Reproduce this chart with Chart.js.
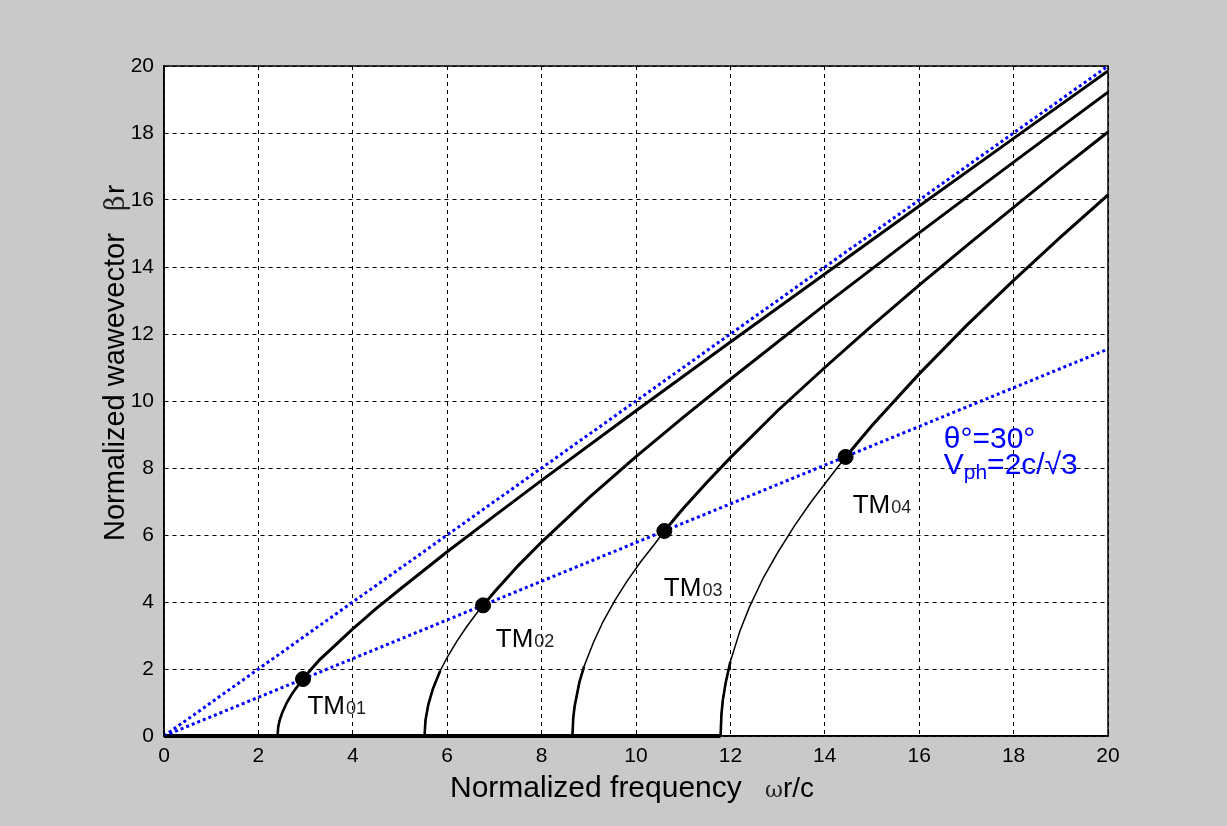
<!DOCTYPE html>
<html>
<head>
<meta charset="utf-8">
<title>TM modes dispersion</title>
<script src="https://cdn.jsdelivr.net/npm/chart.js@4.4.1/dist/chart.umd.min.js"></script>
<style>
  body { margin: 0; background: #c9c9c9; }
  #wrap { width: 1227px; height: 826px; }
</style>
</head>
<body>
<div id="wrap"><canvas id="chart" width="1227" height="826"></canvas></div>
<script>
// Axis ticks (both axes 0..20 step 2)
const tickValues = [0, 2, 4, 6, 8, 10, 12, 14, 16, 18, 20];

// Mode names
const modeNames = ['TM01', 'TM02', 'TM03', 'TM04'];

// Thin part of each mode curve: from cutoff up to the marked point
const tm01ThinX = [2.405, 2.42, 2.45, 2.5, 2.6, 2.7, 2.8, 2.945];
const tm01ThinY = [0, 0.27, 0.47, 0.68, 0.99, 1.23, 1.43, 1.70];
const tm02ThinX = [5.52, 5.54, 5.6, 5.7, 5.85, 6.0, 6.2, 6.4, 6.6, 6.76];
const tm02ThinY = [0, 0.47, 0.94, 1.42, 1.94, 2.35, 2.82, 3.24, 3.62, 3.90];
const tm03ThinX = [8.654, 8.67, 8.7, 8.8, 8.9, 9.1, 9.3, 9.55, 9.8, 10.1, 10.4, 10.6];
const tm03ThinY = [0, 0.53, 0.89, 1.60, 2.08, 2.80, 3.41, 4.04, 4.60, 5.20, 5.74, 6.12];
const tm04ThinX = [11.792, 11.81, 11.84, 11.9, 12.0, 12.2, 12.4, 12.7, 13.0, 13.35, 13.7, 14.05, 14.44];
const tm04ThinY = [0, 0.65, 1.07, 1.59, 2.22, 3.13, 3.84, 4.73, 5.47, 6.26, 6.97, 7.62, 8.33];

// How many of the first thin points look heavier (steep part near cutoff)
const footCount = [8, 5, 5, 5];

// Thick part of each mode curve: from the marked point to the right edge
const tm01ThickX = [2.945, 3.1, 3.3, 3.5, 3.75, 4, 4.5, 5, 6, 7, 8, 10, 12, 14, 16, 18, 20];
const tm01ThickY = [1.70, 1.96, 2.28, 2.54, 2.87, 3.20, 3.81, 4.38, 5.50, 6.57, 7.63, 9.71, 11.76, 13.79, 15.82, 17.84, 19.85];
const tm02ThickX = [6.76, 7, 7.5, 8, 9, 10, 11, 12, 14, 16, 18, 20];
const tm02ThickY = [3.90, 4.30, 5.08, 5.79, 7.11, 8.34, 9.51, 10.65, 12.87, 15.02, 17.13, 19.22];
const tm03ThickX = [10.6, 11, 11.5, 12, 13, 14, 15, 16, 17, 18, 19, 20];
const tm03ThickY = [6.12, 6.79, 7.57, 8.31, 9.71, 11.0, 12.25, 13.46, 14.63, 15.78, 16.92, 18.03];
const tm04ThickX = [14.44, 15, 16, 17, 18, 19, 20];
const tm04ThickY = [8.33, 9.27, 10.81, 12.25, 13.6, 14.9, 16.15];

// Thick line along the bottom (below cutoff)
const baseX = [0, 11.792];
const baseY = [0, 0];

// Blue dotted lines: light line and the 30 degree line
const lightX = [0, 20];
const lightY = [0, 20];
const phaseX = [0, 20];
const phaseY = [0, 11.55];

// Marked points where the 30 degree line crosses each mode
const dotX = [2.945, 6.76, 10.6, 14.44];
const dotY = [1.70, 3.90, 6.12, 8.33];

// Label anchors (data coords, left / baseline)
const labelX = [3.04, 7.03, 10.59, 14.59];
const labelY = [0.66, 2.66, 4.19, 6.67];
const noteX = 16.52;
const noteY1 = 8.61;
const noteY2 = 7.83;

const FONT = '"Liberation Sans", Arial, sans-serif';

function pts(xs, ys) {
    return xs.map((x, i) => ({ x: x, y: ys[i] }));
}

function curve(xs, ys, width, order) {
    return {
        data: pts(xs, ys),
        showLine: true,
        borderColor: '#000',
        borderWidth: width,
        pointRadius: 0,
        tension: 0,
        order: order
    };
}

const thinX = [tm01ThinX, tm02ThinX, tm03ThinX, tm04ThinX];
const thinY = [tm01ThinY, tm02ThinY, tm03ThinY, tm04ThinY];

const datasets = [
    {
        data: pts(dotX, dotY),
        showLine: false,
        pointRadius: 7.5,
        pointBackgroundColor: '#000',
        pointBorderColor: '#000',
        order: 0
    },
    {
        data: pts(lightX, lightY),
        showLine: true,
        borderColor: '#0000ff',
        borderWidth: 3,
        borderDash: [3, 3],
        pointRadius: 0,
        order: 1
    },
    {
        data: pts(phaseX, phaseY),
        showLine: true,
        borderColor: '#0000ff',
        borderWidth: 3,
        borderDash: [3, 3],
        pointRadius: 0,
        order: 1
    },
    curve(tm01ThickX, tm01ThickY, 3, 2),
    curve(tm02ThickX, tm02ThickY, 3, 2),
    curve(tm03ThickX, tm03ThickY, 3, 2),
    curve(tm04ThickX, tm04ThickY, 3, 2),
    Object.assign(curve(baseX, baseY, 4, 2), { clip: false })
];

// thin parts plus the heavier foot near cutoff
thinX.forEach((xs, i) => {
    datasets.push(curve(xs, thinY[i], 1.5, 2));
    const n = footCount[i];
    datasets.push(Object.assign(curve(xs.slice(0, n), thinY[i].slice(0, n), 2.6, 2), { clip: false }));
});

// white plot area + frame + text labels
const plotDecor = {
    id: 'plotDecor',
    beforeDraw(chart) {
        const a = chart.chartArea;
        const ctx = chart.ctx;
        ctx.save();
        ctx.fillStyle = '#fff';
        ctx.fillRect(a.left, a.top, a.right - a.left, a.bottom - a.top);
        ctx.restore();
    },
    afterDraw(chart) {
        const a = chart.chartArea;
        const ctx = chart.ctx;
        const xs = chart.scales.x;
        const ys = chart.scales.y;
        ctx.save();
        // frame
        ctx.strokeStyle = '#000';
        ctx.lineWidth = 1.5;
        ctx.strokeRect(a.left, a.top, a.right - a.left, a.bottom - a.top);

        // mode labels with subscript digits
        ctx.textBaseline = 'alphabetic';
        ctx.textAlign = 'left';
        modeNames.forEach((name, i) => {
            const px = xs.getPixelForValue(labelX[i]);
            const py = ys.getPixelForValue(labelY[i]);
            ctx.font = '26px ' + FONT;
            ctx.fillStyle = '#000';
            ctx.fillText(name.slice(0, 2), px, py);
            const w = ctx.measureText(name.slice(0, 2)).width;
            ctx.font = '18px ' + FONT;
            ctx.fillStyle = '#222';
            ctx.fillText(name.slice(2), px + w + 1, py);
        });

        // blue note
        ctx.fillStyle = '#0000ff';
        const nx = xs.getPixelForValue(noteX);
        ctx.font = '30px ' + FONT;
        ctx.fillText('θ°=30°', nx, ys.getPixelForValue(noteY1));
        const vy = ys.getPixelForValue(noteY2);
        ctx.fillText('V', nx, vy);
        let w = ctx.measureText('V').width;
        ctx.font = '21px ' + FONT;
        ctx.fillText('ph', nx + w, vy + 5);
        w += ctx.measureText('ph').width;
        ctx.font = '30px ' + FONT;
        ctx.fillText('=2c/√3', nx + w, vy);

        // axis titles
        ctx.fillStyle = '#000';
        ctx.font = '30px ' + FONT;
        ctx.fillText('Normalized frequency', 450, 797);
        ctx.font = '22px "DejaVu Serif", serif';
        ctx.fillStyle = '#222';
        ctx.fillText('ω', 765, 797);
        ctx.fillStyle = '#000';
        ctx.font = '28px ' + FONT;
        ctx.fillText('r/c', 783, 797);

        ctx.translate(124, 541);
        ctx.rotate(-Math.PI / 2);
        ctx.font = '29px ' + FONT;
        ctx.fillText('Normalized wawevector', 0, 0);
        ctx.font = '27px "DejaVu Serif", serif';
        ctx.fillStyle = '#222';
        ctx.fillText('β', 330, 0);
        ctx.fillStyle = '#000';
        ctx.font = '28px ' + FONT;
        ctx.fillText('r', 347, 0);
        ctx.restore();
    }
};

const ctx = document.getElementById('chart').getContext('2d');
const myChart = new Chart(ctx, {
    type: 'scatter',
    data: { datasets: datasets },
    options: {
        responsive: false,
        animation: false,
        layout: { padding: { top: 66, right: 119, left: 0, bottom: 0 } },
        plugins: {
            legend: { display: false },
            tooltip: { enabled: false }
        },
        scales: {
            x: {
                type: 'linear',
                min: 0,
                max: 20,
                afterBuildTicks: s => { s.ticks = tickValues.map(v => ({ value: v })); },
                afterFit: s => { s.height = 90; },
                ticks: { font: { family: FONT, size: 21 }, color: '#000', padding: 8, maxRotation: 0 },
                grid: { color: '#000', lineWidth: 1, drawTicks: false },
                border: { color: '#000', width: 1.5, dash: [4, 4] }
            },
            y: {
                type: 'linear',
                min: 0,
                max: 20,
                afterBuildTicks: s => { s.ticks = tickValues.map(v => ({ value: v })); },
                afterFit: s => { s.width = 164; },
                ticks: { font: { family: FONT, size: 21 }, color: '#000', padding: 10 },
                grid: { color: '#000', lineWidth: 1, drawTicks: false },
                border: { color: '#000', width: 1.5, dash: [4, 4] }
            }
        }
    },
    plugins: [plotDecor]
});
</script>
</body>
</html>
